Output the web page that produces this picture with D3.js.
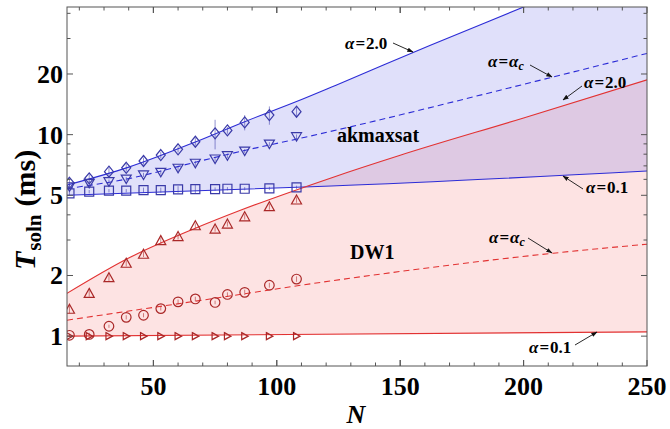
<!DOCTYPE html>
<html>
<head>
<meta charset="utf-8">
<script src="https://cdn.jsdelivr.net/npm/d3@7"></script>
<style>
  body { margin: 0; background: #fff; }
  text { font-family: "Liberation Serif", "Times New Roman", serif; }
</style>
</head>
<body>
<div id="chart"></div>
<script>
// instance sizes N
const sizes = [16, 24, 32, 39, 46, 53, 60, 67, 75, 80, 87, 97, 108];

// akmaxsat (blue)
const akAlpha20 = [5.77, 6.07, 6.55, 6.85, 7.40, 7.92, 8.46, 9.22, 10.15, 10.5, 11.5, 12.5, 13.0];
const akAlpha20Err = [0.3, 0.3, 0.3, 0.3, 0.3, 0.3, 0.3, 0.4, 1.7, 0.4, 1.0, 1.3, 0.7];
const akAlphaC = [5.51, 5.73, 5.84, 6.02, 6.31, 6.50, 6.81, 7.21, 7.57, 7.86, 8.29, 8.98, 9.77];
const akAlphaCErr = [0.15, 0.15, 0.15, 0.15, 0.15, 0.15, 0.2, 0.2, 0.2, 0.2, 0.2, 0.2, 0.25];
const akAlpha01 = [5.11, 5.21, 5.27, 5.27, 5.31, 5.31, 5.35, 5.37, 5.37, 5.39, 5.39, 5.41, 5.48];
const akAlpha01Err = [0.1, 0.1, 0.1, 0.1, 0.15, 0.15, 0.2, 0.25, 0.1, 0.1, 0.1, 0.1, 0.1];

// DW1 (red)
const dwAlpha20 = [1.36, 1.63, 1.95, 2.30, 2.55, 2.98, 3.12, 3.53, 3.40, 3.60, 3.91, 4.39, 4.74];
const dwAlpha20Err = [0.06, 0.06, 0.07, 0.08, 0.08, 0.1, 0.1, 0.1, 0.1, 0.1, 0.12, 0.15, 0.15];
const dwAlphaC = [1.01, 1.02, 1.12, 1.24, 1.27, 1.37, 1.48, 1.53, 1.47, 1.61, 1.65, 1.79, 1.92];
const dwAlphaCErr = [0.02, 0.02, 0.02, 0.03, 0.03, 0.03, 0.04, 0.04, 0.03, 0.04, 0.05, 0.05, 0.06];
const dwAlpha01 = [1.0, 1.0, 1.0, 1.0, 1.0, 1.0, 1.0, 1.0, 1.0, 1.0, 1.0, 1.0, 1.0];

// fitted curves: [N, T]
const akFit20 = [[15, 5.62], [40, 6.9], [67, 9.2], [87, 11.6], [108, 14.6], [124, 17.6], [162, 27.7], [200, 43], [250, 77]];
const akFitC = [[15, 5.4], [40, 6.05], [67, 7.3], [87, 8.35], [108, 9.5], [211, 19.2], [250, 25.3]];
const akFit01 = [[15, 5.0], [108, 5.48], [122, 5.56], [250, 6.6]];
const dwFit20 = [[15, 1.63], [40, 2.44], [67, 3.43], [85, 4.2], [122, 6.1], [150, 7.9], [200, 12.1], [250, 18.7]];
const dwFitC = [[15, 1.2], [70, 1.51], [122, 1.88], [212, 2.58], [250, 2.86]];
const dwFit01 = [[15, 1.0], [250, 1.05]];

// axes
const xTicks = [50, 100, 150, 200, 250];
const xMinor = d3.range(20, 250, 10);
const yTicks = [1, 2, 5, 10, 20];
const yMinor = [3, 4, 6, 7, 8, 9, 30, 40];

const width = 670, height = 429;
const mLeft = 67, mRight = 647, mTop = 7, mBottom = 366;

const blueLine = '#2c2cd6', redLine = '#e23232';
const blueMark = '#3a3aa8', redMark = '#aa2828';

const svg = d3.select('#chart').append('svg')
  .attr('width', width).attr('height', height);

const x = d3.scaleLinear().domain([15, 250]).range([mLeft, mRight]);
const y = d3.scaleLog().domain([0.711, 43]).range([mBottom, mTop]);

const defs = svg.append('defs');
defs.append('clipPath').attr('id', 'plot')
  .append('rect').attr('x', mLeft).attr('y', mTop)
  .attr('width', mRight - mLeft).attr('height', mBottom - mTop);

defs.append('marker')
  .attr('id', 'arrow').attr('viewBox', '0 0 10 10')
  .attr('refX', 9).attr('refY', 5)
  .attr('markerWidth', 7).attr('markerHeight', 7)
  .attr('orient', 'auto')
  .append('path').attr('d', 'M0,1.5L10,5L0,8.5Z').attr('fill', '#111');

const plot = svg.append('g').attr('clip-path', 'url(#plot)');

const line = d3.line().x(d => x(d[0])).y(d => y(d[1])).curve(d3.curveMonotoneX);

function band(hi, lo) {
  const back = lo.slice().reverse();
  return line(hi) + 'L' + line(back).slice(1) + 'Z';
}

// shaded regions
plot.append('path').attr('d', band(dwFit20, dwFit01))
  .attr('fill', 'rgb(240,80,80)').attr('fill-opacity', 0.16);
plot.append('path').attr('d', band(akFit20, akFit01))
  .attr('fill', 'rgb(100,100,230)').attr('fill-opacity', 0.2);

// fit curves
const fits = [
  [akFit20, blueLine, null], [akFitC, blueLine, '6,4'], [akFit01, blueLine, null],
  [dwFit20, redLine, null], [dwFitC, redLine, '6,4'], [dwFit01, redLine, null]
];
fits.forEach(f => {
  plot.append('path').attr('d', line(f[0]))
    .attr('fill', 'none').attr('stroke', f[1]).attr('stroke-width', 1.1)
    .attr('stroke-dasharray', f[2]);
});

// marker shapes
const shapes = {
  diamond: 'M0,-5.5L4.5,0L0,5.5L-4.5,0Z',
  triDown: 'M-5,-4L5,-4L0,4.5Z',
  square: 'M-4.5,-4.5H4.5V4.5H-4.5Z',
  triUp: 'M0,-5L5,4L-5,4Z',
  triRight: 'M-3,-3.5L3.5,0L-3,3.5Z'
};

function series(vals, errs, shape, color) {
  const g = plot.append('g');
  if (errs) {
    g.selectAll('line').data(vals).join('line')
      .attr('x1', (d, i) => x(sizes[i])).attr('x2', (d, i) => x(sizes[i]))
      .attr('y1', (d, i) => y(d + errs[i])).attr('y2', (d, i) => y(d - errs[i]))
      .attr('stroke', color).attr('stroke-width', 0.8).attr('stroke-opacity', 0.7);
  }
  if (shape === 'circle') {
    g.selectAll('circle').data(vals).join('circle')
      .attr('cx', (d, i) => x(sizes[i])).attr('cy', d => y(d)).attr('r', 4.8)
      .attr('fill', 'none').attr('stroke', color).attr('stroke-width', 1.2);
  } else {
    g.selectAll('path').data(vals).join('path')
      .attr('transform', (d, i) => `translate(${x(sizes[i])},${y(d)})`)
      .attr('d', shapes[shape])
      .attr('fill', 'none').attr('stroke', color).attr('stroke-width', 1.2);
  }
}

series(akAlpha20, akAlpha20Err, 'diamond', blueMark);
series(akAlphaC, akAlphaCErr, 'triDown', blueMark);
series(akAlpha01, akAlpha01Err, 'square', blueMark);
series(dwAlpha20, dwAlpha20Err, 'triUp', redMark);
series(dwAlphaC, dwAlphaCErr, 'circle', redMark);
series(dwAlpha01, null, 'triRight', redMark);

// frame and ticks
const frame = svg.append('g').attr('stroke', '#555').attr('stroke-width', 1);
frame.append('rect').attr('x', mLeft).attr('y', mTop)
  .attr('width', mRight - mLeft).attr('height', mBottom - mTop).attr('fill', 'none');

xTicks.concat(xMinor).forEach(t => {
  const len = xTicks.includes(t) ? 6 : 3.5;
  frame.append('line').attr('x1', x(t)).attr('x2', x(t)).attr('y1', mBottom).attr('y2', mBottom - len);
  frame.append('line').attr('x1', x(t)).attr('x2', x(t)).attr('y1', mTop).attr('y2', mTop + len);
});
yTicks.concat(yMinor).forEach(t => {
  const len = yTicks.includes(t) ? 6 : 3.5;
  frame.append('line').attr('y1', y(t)).attr('y2', y(t)).attr('x1', mLeft).attr('x2', mLeft + len);
  frame.append('line').attr('y1', y(t)).attr('y2', y(t)).attr('x1', mRight).attr('x2', mRight - len);
});

svg.append('g').selectAll('text').data(xTicks).join('text')
  .attr('x', d => x(d)).attr('y', 395)
  .attr('text-anchor', 'middle').attr('font-size', 26).attr('font-weight', 'bold')
  .text(d => d);

svg.append('g').selectAll('text').data(yTicks).join('text')
  .attr('x', 63).attr('y', d => y(d) + 9)
  .attr('text-anchor', 'end').attr('font-size', 26).attr('font-weight', 'bold')
  .text(d => d);

// axis titles
svg.append('text').attr('x', 356).attr('y', 423)
  .attr('text-anchor', 'middle').attr('font-size', 26)
  .attr('font-weight', 'bold').attr('font-style', 'italic').text('N');

const yt = svg.append('text')
  .attr('transform', 'translate(35,270) rotate(-90)')
  .attr('text-anchor', 'start').attr('font-size', 30).attr('font-weight', 'bold');
yt.append('tspan').attr('font-style', 'italic').text('T');
yt.append('tspan').attr('font-size', 21).attr('dx', 1).attr('dy', 6).text('soln');
yt.append('tspan').attr('dx', 8).attr('dy', -6).text('(ms)');

// series labels
svg.append('text').attr('x', 337).attr('y', 142)
  .attr('font-size', 20).attr('font-weight', 'bold').text('akmaxsat');
svg.append('text').attr('x', 350).attr('y', 259)
  .attr('font-size', 20).attr('font-weight', 'bold').text('DW1');

// alpha annotations: [text x, baseline y, value, subscript c?, arrow from, arrow to]
const notes = [
  [345, 49, '2.0', false, [393, 43], [413, 52]],
  [488, 67, null, true, [530, 65], [552, 77]],
  [584, 88, '2.0', false, [582, 86], [563, 100]],
  [586, 193, '0.1', false, [583, 189], [563, 176]],
  [489, 243, null, true, [528, 238], [552, 253]],
  [529, 353, '0.1', false, [575, 345], [597, 332]]
];
notes.forEach(n => {
  const t = svg.append('text').attr('x', n[0]).attr('y', n[1])
    .attr('font-size', 17).attr('font-weight', 'bold');
  t.append('tspan').attr('font-style', 'italic').text('α');
  t.append('tspan').attr('dx', 1).text('=');
  if (n[3]) {
    t.append('tspan').attr('font-style', 'italic').attr('dx', 1).text('α');
    t.append('tspan').attr('font-style', 'italic').attr('font-size', 12).attr('dy', 3).text('c');
  } else {
    t.append('tspan').attr('dx', 1).text(n[2]);
  }
  svg.append('line')
    .attr('x1', n[4][0]).attr('y1', n[4][1]).attr('x2', n[5][0]).attr('y2', n[5][1])
    .attr('stroke', '#111').attr('stroke-width', 0.9).attr('marker-end', 'url(#arrow)');
});
</script>
</body>
</html>
